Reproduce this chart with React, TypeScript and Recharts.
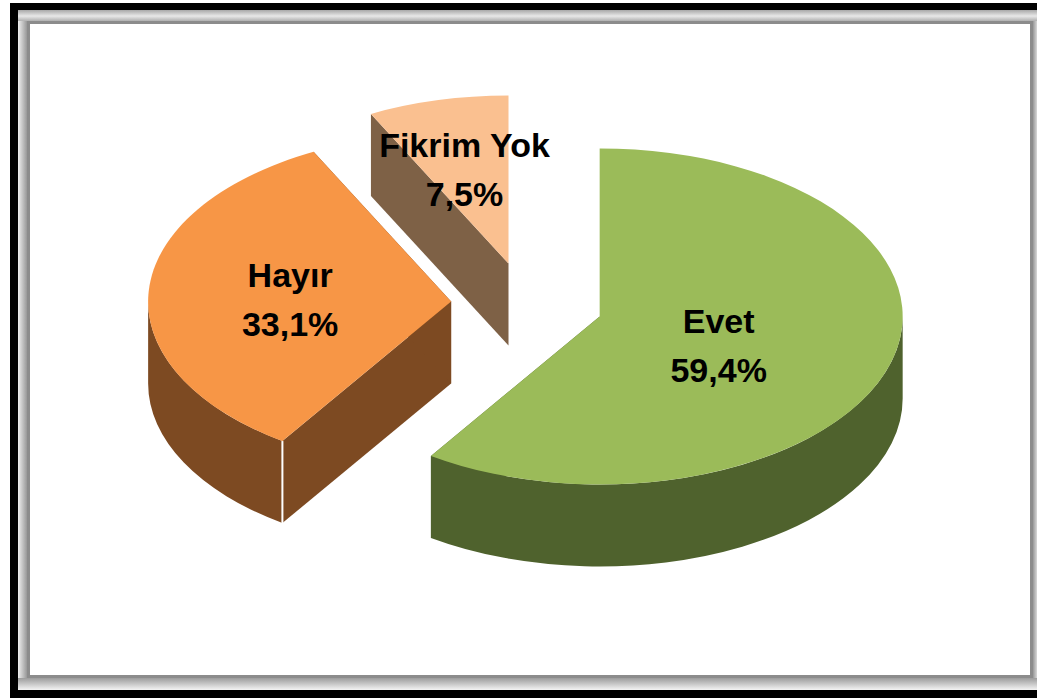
import React from "react";
import { PieChart, Pie } from "recharts";

const categories = ["Evet", "Hayır", "Fikrim Yok"];
const shares = [59.4, 33.1, 7.5];
const shareLabels = ["59,4%", "33,1%", "7,5%"];

const topColors = ["#9BBB59", "#F79646", "#FAC090"];
const wallColors = ["#4F622D", "#7D4A22", "#7E6146"];
const explodeDistances = [77, 75, 75];
const labelNudges = [
  [119, 30],
  [-161, -2],
  [-44, -94],
];

const chartData = categories.map((name, i) => ({ name, value: shares[i] }));

const WIDTH = 1037;
const HEIGHT = 699;
const FLATTEN = 168 / 303;
const DEPTH = 82;
const FONT = '"Liberation Sans", Arial, sans-serif';
const RAD = Math.PI / 180;

function explodedCenter(cx: number, cy: number, startAngle: number, endAngle: number, i: number) {
  const mid = ((startAngle + endAngle) / 2) * RAD;
  return {
    x: cx + explodeDistances[i] * Math.cos(mid),
    y: cy - explodeDistances[i] * FLATTEN * Math.sin(mid),
  };
}

function Slice3D(props: any) {
  const { cx, cy, outerRadius, startAngle, endAngle, name } = props;
  const i = categories.indexOf(name);
  const rx = outerRadius;
  const ry = outerRadius * FLATTEN;
  const c = explodedCenter(cx, cy, startAngle, endAngle, i);
  const pt = (a: number, dy = 0) => ({
    x: c.x + rx * Math.cos(a * RAD),
    y: c.y - ry * Math.sin(a * RAD) + dy,
  });
  const xy = (p: { x: number; y: number }) => `${p.x} ${p.y}`;
  const radialWall = (a: number) =>
    `M${xy({ x: c.x, y: c.y })}L${xy(pt(a))}L${xy(pt(a, DEPTH))}L${c.x} ${c.y + DEPTH}Z`;

  const hi = Math.min(Math.max(startAngle, endAngle), 0);
  const lo = Math.max(Math.min(startAngle, endAngle), -180);
  const hasOuterWall = hi > lo;
  const outerWall =
    `M${xy(pt(hi))}A${rx} ${ry} 0 0 1 ${xy(pt(lo))}` +
    `L${xy(pt(lo, DEPTH))}A${rx} ${ry} 0 0 0 ${xy(pt(hi, DEPTH))}Z`;

  const large = Math.abs(startAngle - endAngle) > 180 ? 1 : 0;
  const top = `M${c.x} ${c.y}L${xy(pt(startAngle))}A${rx} ${ry} 0 ${large} 1 ${xy(pt(endAngle))}Z`;

  const seamVisible = Math.sin(startAngle * RAD) < -0.01;
  const seamA = pt(startAngle);
  const seamB = pt(startAngle, DEPTH);

  return (
    <g>
      <path d={radialWall(startAngle)} fill={wallColors[i]} />
      <path d={radialWall(endAngle)} fill={wallColors[i]} />
      {hasOuterWall && <path d={outerWall} fill={wallColors[i]} />}
      {seamVisible && (
        <line x1={seamA.x} y1={seamA.y} x2={seamB.x} y2={seamB.y} stroke="#FFFFFF" strokeWidth={2} />
      )}
      <path d={top} fill={topColors[i]} />
    </g>
  );
}

function SliceLabel(props: any) {
  const { cx, cy, name, startAngle, endAngle } = props;
  const i = categories.indexOf(name);
  const c = explodedCenter(cx, cy, startAngle, endAngle, i);
  const x = c.x + labelNudges[i][0];
  const y = c.y + labelNudges[i][1];
  const shared = {
    x,
    textAnchor: "middle" as const,
    fontFamily: FONT,
    fontSize: 34,
    fontWeight: 700,
    fill: "#000000",
  };
  return (
    <g>
      <text {...shared} y={y - 13}>{categories[i]}</text>
      <text {...shared} y={y + 36}>{shareLabels[i]}</text>
    </g>
  );
}

const box = (style: React.CSSProperties): React.CSSProperties => ({ position: "absolute", ...style });

export default function App() {
  return (
    <div style={{ position: "fixed", left: 0, top: 0, width: WIDTH, height: HEIGHT, overflow: "hidden", background: "#FFFFFF" }}>
      {/* black frame: top, left, bottom */}
      <div style={box({ left: 10, top: 3, width: 1027, height: 695, background: "#000000" })} />
      {/* bevel */}
      <div style={box({ left: 18, top: 10, width: 1019, height: 680, background: "#C4C4C4" })} />
      <div style={box({ left: 18, top: 10, width: 1019, height: 11, background: "linear-gradient(#A8A8A8, #E8E8E8 55%, #B0B0B0)" })} />
      <div style={box({ left: 18, top: 21, width: 9, height: 657, background: "linear-gradient(90deg, #F0F0F0, #C4C4C4 50%, #989898)" })} />
      <div style={box({ left: 1033, top: 21, width: 4, height: 657, background: "linear-gradient(90deg, #989898, #D8D8D8)" })} />
      <div style={box({ left: 18, top: 678, width: 1019, height: 12, background: "linear-gradient(#9C9C9C, #F4F4F4)" })} />
      {/* panel */}
      <div style={box({ left: 27, top: 21, width: 1006, height: 657, background: "#8C8C8C" })} />
      <div style={box({ left: 30, top: 24, width: 1000, height: 651, background: "#FFFFFF" })} />
      <div style={box({ left: 0, top: 0 })}>
        <PieChart width={WIDTH} height={HEIGHT} margin={{ top: 0, right: 0, bottom: 0, left: 0 }}>
          <Pie
            data={chartData}
            dataKey="value"
            nameKey="name"
            cx={526}
            cy={304}
            innerRadius={0}
            outerRadius={303}
            startAngle={90}
            endAngle={-270}
            paddingAngle={0}
            stroke="none"
            shape={Slice3D}
            label={SliceLabel}
            labelLine={false}
            isAnimationActive={false}
          />
        </PieChart>
      </div>
    </div>
  );
}
